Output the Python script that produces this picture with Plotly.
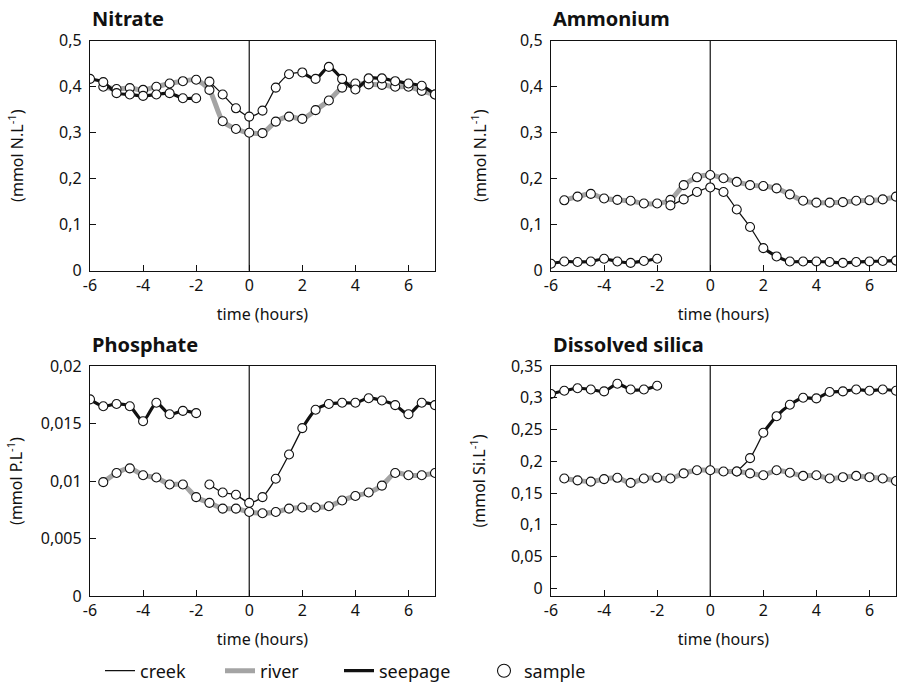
import plotly.graph_objects as go

# Sampling times (hours relative to low tide)
TIME_H = [-6, -5.5, -5, -4.5, -4, -3.5, -3, -2.5, -2, -1.5, -1, -0.5, 0,
          0.5, 1, 1.5, 2, 2.5, 3, 3.5, 4, 4.5, 5, 5.5, 6, 6.5, 7]

X_TICKS = [-6, -4, -2, 0, 2, 4, 6]
X_TICK_TEXT = ["-6", "-4", "-2", "0", "2", "4", "6"]

# Nitrate (mmol N/L)
NITRATE_MARSH = [0.417, 0.410, 0.386, 0.383, 0.380, 0.383, 0.386, 0.375, 0.375,
                 0.411, 0.383, 0.353, 0.335, 0.348, 0.398, 0.427, 0.431, 0.417,
                 0.443, 0.417, 0.394, 0.418, 0.418, 0.412, 0.407, 0.402, 0.383]
NITRATE_RIVER = [None, 0.400, 0.395, 0.397, 0.393, 0.400, 0.407, 0.412, 0.415,
                 0.393, 0.325, 0.308, 0.300, 0.299, 0.324, 0.335, 0.330, 0.349,
                 0.370, 0.398, 0.407, 0.405, 0.404, 0.400, 0.400, 0.391, 0.383]

# Ammonium (mmol N/L)
AMMONIUM_MARSH = [0.015, 0.020, 0.019, 0.020, 0.026, 0.020, 0.017, 0.021, 0.026,
                  0.142, 0.155, 0.171, 0.181, 0.171, 0.133, 0.095, 0.049, 0.031,
                  0.020, 0.020, 0.020, 0.019, 0.017, 0.019, 0.020, 0.021, 0.022]
AMMONIUM_RIVER = [None, 0.153, 0.161, 0.167, 0.157, 0.154, 0.152, 0.146, 0.146,
                  0.154, 0.186, 0.203, 0.208, 0.201, 0.193, 0.186, 0.184, 0.179,
                  0.166, 0.152, 0.148, 0.148, 0.149, 0.152, 0.153, 0.155, 0.161]

# Phosphate (mmol P/L)
PHOSPHATE_MARSH = [0.0171, 0.0165, 0.0167, 0.0165, 0.0152, 0.0168, 0.0158, 0.0161, 0.0159,
                   0.0097, 0.0090, 0.0088, 0.0081, 0.0086, 0.0102, 0.0123, 0.0146, 0.0162,
                   0.0167, 0.0168, 0.0168, 0.0172, 0.0170, 0.0166, 0.0158, 0.0168, 0.0166]
PHOSPHATE_RIVER = [None, 0.0099, 0.0107, 0.0111, 0.0105, 0.0103, 0.0097, 0.0097, 0.0086,
                   0.0081, 0.0076, 0.0076, 0.0073, 0.0072, 0.0073, 0.0076, 0.0077, 0.0077,
                   0.0078, 0.0083, 0.0087, 0.0090, 0.0096, 0.0107, 0.0105, 0.0105, 0.0107]

# Dissolved silica (mmol Si/L)
SILICA_MARSH = [0.306, 0.311, 0.315, 0.313, 0.310, 0.322, 0.313, 0.313, 0.319,
                None, None, None, None, None, 0.184, 0.205, 0.245, 0.271,
                0.289, 0.300, 0.299, 0.309, 0.310, 0.313, 0.311, 0.313, 0.311]
SILICA_RIVER = [None, 0.173, 0.170, 0.168, 0.172, 0.174, 0.166, 0.173, 0.174,
                0.173, 0.181, 0.186, 0.186, 0.184, 0.184, 0.181, 0.178, 0.186,
                0.182, 0.177, 0.178, 0.173, 0.175, 0.177, 0.175, 0.173, 0.169]

N_TICKS = [0, 0.1, 0.2, 0.3, 0.4, 0.5]
N_TICK_TEXT = ["0", "0,1", "0,2", "0,3", "0,4", "0,5"]
P_TICKS = [0, 0.005, 0.01, 0.015, 0.02]
P_TICK_TEXT = ["0", "0,005", "0,01", "0,015", "0,02"]
SI_TICKS = [0, 0.05, 0.1, 0.15, 0.2, 0.25, 0.3, 0.35]
SI_TICK_TEXT = ["0", "0,05", "0,1", "0,15", "0,2", "0,25", "0,3", "0,35"]

PANELS = [
    dict(title="Nitrate", unit="(mmol N.L<sup>-1</sup>)", marsh=NITRATE_MARSH,
         river=NITRATE_RIVER, creek=(9, 16), yrange=[0, 0.5],
         ticks=N_TICKS, ticktext=N_TICK_TEXT, ystandoff=31),
    dict(title="Ammonium", unit="(mmol N.L<sup>-1</sup>)", marsh=AMMONIUM_MARSH,
         river=AMMONIUM_RIVER, creek=(9, 16), yrange=[0, 0.5],
         ticks=N_TICKS, ticktext=N_TICK_TEXT, ystandoff=29),
    dict(title="Phosphate", unit="(mmol P.L<sup>-1</sup>)", marsh=PHOSPHATE_MARSH,
         river=PHOSPHATE_RIVER, creek=(9, 16), yrange=[0, 0.02],
         ticks=P_TICKS, ticktext=P_TICK_TEXT, ystandoff=14),
    dict(title="Dissolved silica", unit="(mmol Si.L<sup>-1</sup>)", marsh=SILICA_MARSH,
         river=SILICA_RIVER, creek=(14, 16), yrange=[-0.012, 0.35],
         ticks=SI_TICKS, ticktext=SI_TICK_TEXT, ystandoff=21),
]

W, H = 899, 688
FONT = "Noto Sans"
INK = "#111111"
GREY = "#a4a4a4"

# plot-area rectangles in pixels: left, right, top, bottom
BOXES = [(90, 435, 40.7, 270.7), (551, 896, 40.7, 270.7),
         (90, 435, 366, 596), (551, 896, 366, 596)]

fig = go.Figure()
annotations = []
shapes = []
layout_axes = {}

for i, (p, box) in enumerate(zip(PANELS, BOXES)):
    sfx = "" if i == 0 else str(i + 1)
    xa, ya = "x" + sfx, "y" + sfx
    left, right, top, bottom = box
    cs, ce = p["creek"]
    common = dict(xaxis=xa, yaxis=ya, hoverinfo="skip", showlegend=False)
    smooth = dict(shape="spline", smoothing=0.7)

    # river (thick grey)
    fig.add_trace(go.Scatter(x=TIME_H, y=p["river"], mode="lines",
                             line=dict(color=GREY, width=5, **smooth), **common))
    # seepage before the break and after the creek flow (thick black)
    fig.add_trace(go.Scatter(x=TIME_H[:9], y=p["marsh"][:9], mode="lines",
                             line=dict(color=INK, width=3.2, **smooth), **common))
    fig.add_trace(go.Scatter(x=TIME_H[ce:], y=p["marsh"][ce:], mode="lines",
                             line=dict(color=INK, width=3.2, **smooth), **common))
    # creek flow (thin black)
    fig.add_trace(go.Scatter(x=TIME_H[cs:ce + 1], y=p["marsh"][cs:ce + 1], mode="lines",
                             line=dict(color=INK, width=1.3, **smooth), **common))
    # sample points
    mk = dict(symbol="circle", size=9, color="white", line=dict(color=INK, width=1.1))
    fig.add_trace(go.Scatter(x=TIME_H, y=p["river"], mode="markers", marker=mk, **common))
    fig.add_trace(go.Scatter(x=TIME_H, y=p["marsh"], mode="markers", marker=mk, **common))

    layout_axes["xaxis" + sfx] = dict(
        domain=[left / W, right / W], anchor=ya, range=[-6, 7],
        tickvals=X_TICKS, ticktext=X_TICK_TEXT, ticks="inside", ticklen=6,
        tickcolor=INK, tickwidth=1.2, showline=True, linecolor=INK, linewidth=1.3,
        mirror=True, showgrid=False, zeroline=False, automargin=False,
        tickfont=dict(family=FONT, size=16, color=INK),
        title=dict(text="time (hours)", standoff=13,
                   font=dict(family=FONT, size=16, color=INK)))
    layout_axes["yaxis" + sfx] = dict(
        domain=[1 - bottom / H, 1 - top / H], anchor=xa, range=p["yrange"],
        tickvals=p["ticks"], ticktext=p["ticktext"], ticks="inside", ticklen=6,
        tickcolor=INK, tickwidth=1.2, showline=True, linecolor=INK, linewidth=1.3,
        mirror=True, showgrid=False, zeroline=False, automargin=False,
        ticklabelstandoff=4,
        tickfont=dict(family=FONT, size=16, color=INK),
        title=dict(text=p["unit"], standoff=p["ystandoff"],
                   font=dict(family=FONT, size=16, color=INK)))

    # vertical reference line at t = 0
    shapes.append(dict(type="line", xref=xa, yref=ya + " domain", x0=0, x1=0,
                       y0=0, y1=1, line=dict(color=INK, width=1.2), layer="below"))

    annotations.append(dict(text="<b>%s</b>" % p["title"], xref="paper", yref="paper",
                            x=left / W, y=1 - (top - 22) / H, xanchor="left", yanchor="middle",
                            showarrow=False, font=dict(family=FONT, size=20, color=INK)))

# legend entries, each in its own legend box along the bottom
LEGEND_ITEMS = [
    ("creek", dict(mode="lines", line=dict(color=INK, width=1.3)), 100),
    ("river", dict(mode="lines", line=dict(color=GREY, width=5)), 220),
    ("seepage", dict(mode="lines", line=dict(color=INK, width=3.2)), 339),
    ("sample", dict(mode="markers", marker=dict(symbol="circle", size=13, color="white",
                                                  line=dict(color=INK, width=1.1))), 484),
]
legend_layout = {}
for k, (name, style, xpix) in enumerate(LEGEND_ITEMS):
    lname = "legend" if k == 0 else "legend%d" % (k + 1)
    fig.add_trace(go.Scatter(x=[None], y=[None], name=name, legend=lname,
                             showlegend=True, **style))
    legend_layout[lname] = dict(x=xpix / W, y=1 - 671 / H, xanchor="left", yanchor="middle",
                                bgcolor="rgba(0,0,0,0)", borderwidth=0,
                                font=dict(family=FONT, size=18, color=INK))

fig.update_layout(
    width=W, height=H, margin=dict(l=0, r=0, t=0, b=0, autoexpand=False),
    paper_bgcolor="white", plot_bgcolor="white",
    annotations=annotations, shapes=shapes,
    **layout_axes, **legend_layout,
)

fig.write_html("out.html")
